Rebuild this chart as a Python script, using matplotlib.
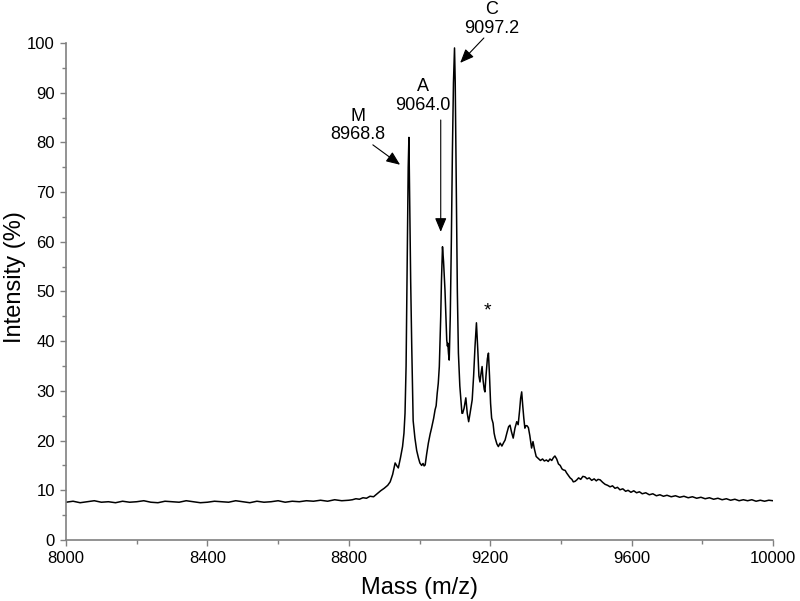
import numpy as np
import matplotlib
matplotlib.use("Agg")
import matplotlib.pyplot as plt

plt.rcParams['font.family'] = ['Liberation Sans', 'DejaVu Sans']

# --- Data ---
# flat baseline 8000-8800, every 20 Da
base_mass = np.arange(8000, 8801, 20)
base_int = [7.6, 7.8, 7.5, 7.7, 7.9, 7.6, 7.7, 7.5, 7.8, 7.6, 7.7, 7.9, 7.6, 7.5,
            7.8, 7.7, 7.6, 7.9, 7.7, 7.5, 7.6, 7.8, 7.7, 7.6, 7.9, 7.7, 7.5, 7.8,
            7.6, 7.7, 7.9, 7.6, 7.8, 7.7, 7.9, 7.8, 8.0, 7.8, 8.1, 7.9, 8.0]

# peak region and tail
peak_mass = [8810, 8820, 8830, 8840, 8850, 8860, 8870, 8880, 8890, 8900, 8910, 8917,
             8924, 8931, 8936, 8940, 8946, 8952, 8956, 8959, 8962, 8965, 8968, 8970,
             8972, 8975, 8978, 8982, 8987, 8992, 8997, 9001, 9006, 9010, 9013, 9016,
             9020, 9025, 9030, 9034, 9040, 9044, 9047, 9050, 9053, 9056, 9058, 9060,
             9062, 9065, 9068, 9072, 9075, 9077, 9079, 9080, 9082, 9084, 9087, 9090,
             9093, 9096, 9099, 9101, 9104, 9107, 9110, 9114, 9117, 9120, 9122, 9126,
             9131, 9135, 9139, 9143, 9149, 9153, 9157, 9161, 9165, 9168, 9171, 9174,
             9177, 9180, 9183, 9185, 9188, 9192, 9195, 9198, 9201, 9204, 9208, 9211,
             9214, 9219, 9223, 9228, 9233, 9238, 9242, 9247, 9252, 9256, 9260, 9265,
             9270, 9275, 9279, 9283, 9286, 9289, 9292, 9295, 9298, 9301, 9304, 9308,
             9312, 9317, 9321, 9325, 9330, 9336, 9342, 9348, 9353, 9359, 9364, 9369,
             9374, 9379, 9383, 9388, 9393, 9398, 9403, 9407, 9412, 9416, 9421, 9426,
             9431, 9435, 9440, 9445, 9450, 9456, 9462, 9468, 9474, 9480, 9487, 9494,
             9500, 9505, 9511, 9518, 9525, 9532, 9539, 9546, 9553, 9560, 9567, 9575,
             9583, 9590, 9598, 9606, 9614, 9622, 9630, 9640, 9650, 9660, 9670, 9680,
             9690, 9700, 9712, 9724, 9736, 9748, 9760, 9772, 9784, 9796, 9808, 9820,
             9832, 9844, 9856, 9868, 9880, 9892, 9904, 9916, 9928, 9940, 9952, 9964,
             9976, 9988, 10000]
peak_int = [8.1, 8.3, 8.2, 8.5, 8.4, 8.8, 8.7, 9.3, 9.9, 10.4, 11.0, 11.7,
            13.2, 15.5, 14.9, 14.5, 16.5, 18.8, 21.5, 25.5, 35, 55, 75, 81,
            70, 52, 38.9, 24, 20.5, 18, 16.5, 15.5, 15.0, 15.4, 14.9, 15.1,
            17.2, 19.5, 21.3, 22.5, 24.5, 26.2, 27.0, 29.5, 31.5, 34.9, 40, 45,
            52, 59, 56, 50.3, 44, 40.2, 39.0, 39.6, 37.5, 36.2, 45, 60,
            78, 92, 99, 92, 70, 50, 37.6, 31, 28.2, 25.5, 25.5, 26.5,
            28.6, 25.5, 23.8, 25.5, 28.2, 33, 39, 43.7, 38, 33, 31.8, 33.5,
            34.9, 32, 30.3, 29.8, 33, 36.5, 37.6, 33, 27.5, 24.5, 23.5, 21.5,
            20.5, 19.3, 18.8, 19.5, 18.9, 19.6, 20.1, 21.5, 22.8, 23.1, 21.8, 20.5,
            22.5, 23.8, 23.2, 26.0, 28.5, 29.8, 27, 24.5, 22.5, 23.0, 23.0, 22.6,
            21, 18.5, 19.8, 18.3, 16.8, 16.4, 16.0, 16.3, 15.9, 16.1, 15.8, 16.3,
            16.0, 16.6, 16.9, 16.3, 15.3, 15.0, 14.3, 14.1, 14.0, 13.5, 13.0, 12.5,
            12.2, 11.7, 11.8, 12.1, 12.5, 12.2, 12.8, 12.7, 12.3, 12.5, 12.0, 12.3,
            11.9, 12.2, 12.1, 11.6, 11.2, 11.0, 10.7, 10.9, 10.4, 10.6, 10.1, 10.3,
            9.8, 10.0, 9.6, 9.9, 9.5, 9.7, 9.3, 9.5, 9.1, 9.3, 8.9, 9.1,
            8.8, 9.0, 8.7, 8.9, 8.6, 8.8, 8.5, 8.7, 8.4, 8.6, 8.3, 8.5,
            8.2, 8.4, 8.1, 8.3, 8.0, 8.2, 7.9, 8.1, 7.9, 8.1, 7.8, 8.0,
            7.8, 8.0, 7.9]

mass = np.concatenate([base_mass, peak_mass])
intensity = np.concatenate([base_int, peak_int])

# peak labels: (text, text pos, arrow start, arrow tip)
labels = [
    ("M\n8968.8", (8826, 83.4), (8868, 79.5), (8945, 75.5)),
    ("A\n9064.0", (9010, 89.3), (9060, 84.5), (9060, 62.0)),
    ("C\n9097.2", (9205, 104.8), (9182, 101.0), (9115, 96.0)),
]

# --- Plot ---
fig = plt.figure(figsize=(8, 6.01), dpi=100)
ax = fig.add_axes([0.0825, 0.1015, 0.8838, 0.8270])

ax.plot(mass, intensity, color='black', lw=1.1)

for txt, tpos, start, tip in labels:
    ax.text(tpos[0], tpos[1], txt, ha='center', va='center', fontsize=13,
            linespacing=1.15, clip_on=False)
    ax.annotate('', xy=tip, xytext=start, annotation_clip=False,
                arrowprops=dict(arrowstyle='-|>,head_length=0.6,head_width=0.25',
                                mutation_scale=14, lw=0.8, color='black',
                                shrinkA=0, shrinkB=0))
ax.text(9191, 46.1, "*", ha='center', va='center', fontsize=14)

ax.set_xlim(8000, 10000)
ax.set_ylim(0, 100)
ax.set_xticks([8000, 8400, 8800, 9200, 9600, 10000])
ax.set_xticks(np.arange(8200, 10000, 400), minor=True)
ax.set_yticks(np.arange(0, 101, 10))
ax.set_yticks(np.arange(5, 100, 10), minor=True)

for side in ['top', 'right']:
    ax.spines[side].set_visible(False)
for side in ['left', 'bottom']:
    ax.spines[side].set_color('#808080')
    ax.spines[side].set_linewidth(1.2)

ax.tick_params(which='major', direction='out', length=4, width=1, color='#808080',
               labelsize=12, pad=4)
ax.tick_params(which='minor', direction='out', length=3, width=1, color='#808080')

ax.set_xlabel("Mass (m/z)", fontsize=17)
ax.set_ylabel("Intensity (%)", fontsize=17)
ax.xaxis.set_label_coords(0.5, -0.074)
ax.yaxis.set_label_coords(-0.056, 0.53)

fig.savefig("out.png", dpi=100)
